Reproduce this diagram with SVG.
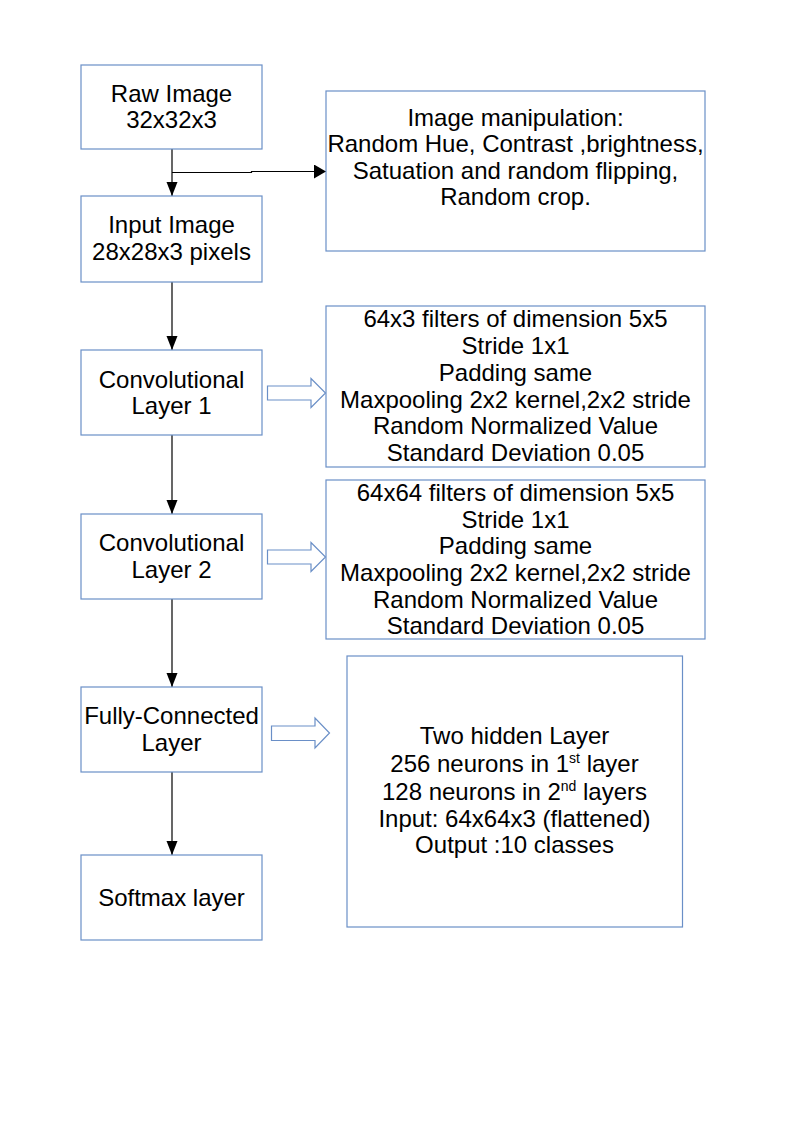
<svg xmlns="http://www.w3.org/2000/svg" width="794" height="1123" viewBox="0 0 794 1123">
<style>
.box{fill:#ffffff;stroke:#6a8fc7;stroke-width:1.2}
.t{font-family:"Liberation Sans",Arial,sans-serif;font-size:24px;fill:#000;text-anchor:middle}
.sup{font-size:14px}
.con{fill:none;stroke:#000;stroke-width:1.2}
.hollow{fill:#ffffff;stroke:#6a8fc7;stroke-width:1.2}
</style>
<defs>
<marker id="ah" markerWidth="12" markerHeight="14" refX="12" refY="7" orient="auto" markerUnits="userSpaceOnUse" viewBox="0 0 12 14">
<path d="M0,0 L12,7 L0,14 Z" fill="#000"/>
</marker>
<marker id="av" markerWidth="14" markerHeight="14" refX="14" refY="7" orient="auto" markerUnits="userSpaceOnUse" viewBox="0 0 14 14">
<path d="M0,1.5 L14,7 L0,12.5 Z" fill="#000"/>
</marker>
</defs>
<rect width="794" height="1123" fill="#ffffff"/>
<g id="connectors">
<line class="con" x1="172" y1="149" x2="172" y2="196" marker-end="url(#av)"/>
<polyline class="con" points="172,172.5 251.5,172.5 251.5,171.5 326,171.5" marker-end="url(#ah)"/>
<line class="con" x1="172" y1="282" x2="172" y2="350" marker-end="url(#av)"/>
<line class="con" x1="172" y1="435" x2="172" y2="514" marker-end="url(#av)"/>
<line class="con" x1="172" y1="599" x2="172" y2="687" marker-end="url(#av)"/>
<line class="con" x1="172" y1="772" x2="172" y2="855" marker-end="url(#av)"/>
<path class="hollow" d="M267.5,386 L311,386 L311,378.5 L325.5,393 L311,407.5 L311,400 L267.5,400 Z"/>
<path class="hollow" d="M267.5,550 L311,550 L311,542.5 L325.5,557 L311,571.5 L311,564 L267.5,564 Z"/>
<path class="hollow" d="M271.5,726 L315,726 L315,718 L329.5,733 L315,748 L315,740.5 L271.5,740.5 Z"/>
</g>
<g id="raw">
<rect class="box" x="81" y="65" width="181" height="84"/>
<text class="t" x="171.5" y="101.7">Raw Image</text>
<text class="t" x="171.5" y="128">32x32x3</text>
</g>
<g id="input">
<rect class="box" x="81" y="196" width="181" height="86"/>
<text class="t" x="171.5" y="233.3">Input Image</text>
<text class="t" x="171.5" y="259.5">28x28x3 pixels</text>
</g>
<g id="conv1">
<rect class="box" x="81" y="350" width="181" height="85"/>
<text class="t" x="171.5" y="387.7">Convolutional</text>
<text class="t" x="171.5" y="413.8">Layer 1</text>
</g>
<g id="conv2">
<rect class="box" x="81" y="514" width="181" height="85"/>
<text class="t" x="171.5" y="551">Convolutional</text>
<text class="t" x="171.5" y="577.7">Layer 2</text>
</g>
<g id="fc">
<rect class="box" x="81" y="687" width="181" height="85"/>
<text class="t" x="171.5" y="724">Fully-Connected</text>
<text class="t" x="171.5" y="750.7">Layer</text>
</g>
<g id="softmax">
<rect class="box" x="81" y="855" width="181" height="85"/>
<text class="t" x="171.5" y="905.7">Softmax layer</text>
</g>
<g id="manip">
<rect class="box" x="326" y="91" width="379" height="160"/>
<text class="t" x="515.5" y="126">Image manipulation:</text>
<text class="t" x="515.5" y="152.3">Random Hue, Contrast ,brightness,</text>
<text class="t" x="515.5" y="178.8">Satuation and random flipping,</text>
<text class="t" x="515.5" y="205.3">Random crop.</text>
</g>
<g id="conv1info">
<rect class="box" x="326" y="306" width="379" height="161"/>
<text class="t" x="515.5" y="327.2">64x3 filters of dimension 5x5</text>
<text class="t" x="515.5" y="353.8">Stride 1x1</text>
<text class="t" x="515.5" y="380.7">Padding same</text>
<text class="t" x="515.5" y="407.8">Maxpooling 2x2 kernel,2x2 stride</text>
<text class="t" x="515.5" y="434.2">Random Normalized Value</text>
<text class="t" x="515.5" y="461">Standard Deviation 0.05</text>
</g>
<g id="conv2info">
<rect class="box" x="326" y="480" width="379" height="159"/>
<text class="t" x="515.5" y="500.7">64x64 filters of dimension 5x5</text>
<text class="t" x="515.5" y="527.7">Stride 1x1</text>
<text class="t" x="515.5" y="554.2">Padding same</text>
<text class="t" x="515.5" y="581">Maxpooling 2x2 kernel,2x2 stride</text>
<text class="t" x="515.5" y="607.5">Random Normalized Value</text>
<text class="t" x="515.5" y="634.3">Standard Deviation 0.05</text>
</g>
<g id="fcinfo">
<rect class="box" x="347" y="656" width="335.5" height="271"/>
<text class="t" x="514.5" y="744.3">Two hidden Layer</text>
<text class="t" x="514.5" y="772.3">256 neurons in 1<tspan class="sup" dy="-9">st</tspan><tspan dy="9"> layer</tspan></text>
<text class="t" x="514.5" y="800">128 neurons in 2<tspan class="sup" dy="-9">nd</tspan><tspan dy="9"> layers</tspan></text>
<text class="t" x="514.5" y="826.7">Input: 64x64x3 (flattened)</text>
<text class="t" x="514.5" y="853.3">Output :10 classes</text>
</g>
</svg>
